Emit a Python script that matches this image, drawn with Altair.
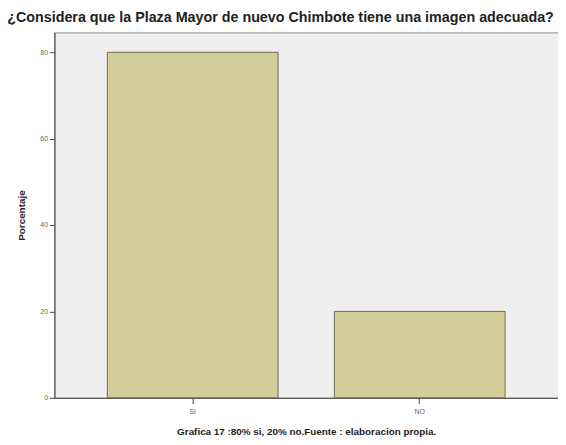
import altair as alt
import pandas as pd

categorias = ["SI", "NO"]
porcentajes = [80, 20]

df = pd.DataFrame({"respuesta": categorias, "porcentaje": porcentajes})

chart = alt.Chart(df).mark_bar(
    color="#d3cd97", stroke="#6b6b5a", strokeWidth=1
).encode(
    x=alt.X("respuesta:N", sort=categorias,
            scale=alt.Scale(paddingInner=0.248, paddingOuter=0.233),
            axis=alt.Axis(title="Grafica 17 :80% si, 20% no.Fuente : elaboracion propia.",
                          labelAngle=0, labelFontSize=7, labelColor="#666666",
                          titleFontSize=10, titleFont="Liberation Sans", titleFontWeight="bold",
                          titleColor="#222222", titlePadding=12,
                          tickSize=6, tickColor="#444444", domainColor="#444444",
                          labelPadding=4)),
    y=alt.Y("porcentaje:Q",
            scale=alt.Scale(domain=[0, 84.6], nice=False),
            axis=alt.Axis(title="Porcentaje", values=[0, 20, 40, 60, 80],
                          labelFontSize=7, labelColor="#666666",
                          titleFontSize=10, titleFont="Liberation Sans", titleFontWeight="bold",
                          titleColor="#222222", titlePadding=14,
                          tickSize=5, tickColor="#444444", domainColor="#444444",
                          grid=False, labelPadding=2)),
).properties(
    width=510, height=370,
    title=alt.TitleParams("¿Considera que la Plaza Mayor de nuevo Chimbote tiene una imagen adecuada?",
                          fontSize=14.5, font="Liberation Sans", fontWeight="bold",
                          color="#222222", anchor="middle", offset=7, dx=-26),
    autosize=alt.AutoSizeParams(type="none"),
    padding={"left": 47, "top": 22, "right": 0, "bottom": 37},
    background="white",
).configure_view(
    fill="#efefef", stroke="#888888", strokeWidth=1
)

chart.save("out.html", embed_options={"renderer": "svg", "actions": False})
